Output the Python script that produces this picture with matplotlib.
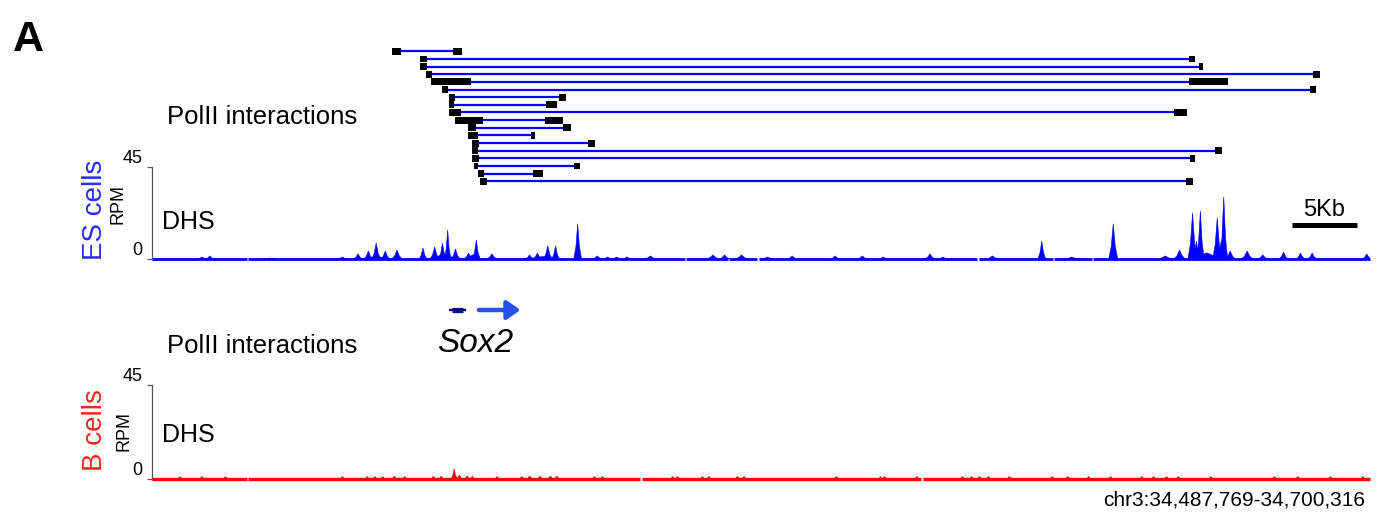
import numpy as np
import matplotlib.pyplot as plt

plt.rcParams['font.family'] = ['Liberation Sans', 'DejaVu Sans']

W, H = 1389, 512

# PolII interactions (positions in kb from the left edge of the view)
left_start = [18.6, 20.8, 20.8, 21.2, 21.6, 22.5, 23.0, 23.0, 23.0, 23.5, 24.5, 24.5, 24.8, 24.8, 24.8, 24.9, 25.2, 25.4]
left_end = [19.3, 21.3, 21.3, 21.7, 24.7, 22.9, 23.5, 23.4, 23.9, 25.6, 25.1, 25.2, 25.3, 25.2, 25.3, 25.2, 25.7, 25.9]
right_start = [23.3, 79.9, 80.7, 89.5, 79.9, 89.2, 31.5, 30.5, 78.8, 30.4, 31.8, 29.3, 33.7, 81.9, 80.0, 32.6, 29.5, 79.7]
right_end = [24.0, 80.4, 81.0, 90.0, 82.9, 89.7, 32.0, 31.3, 79.8, 31.8, 32.4, 29.6, 34.2, 82.5, 80.4, 33.1, 30.2, 80.2]

# ES cells DHS peaks: centre (kb), height (RPM), half width (kb)
es_pos = [4.0, 4.6, 9.2, 14.8, 16.0, 16.8, 17.4, 18.1, 19.0, 21.0, 21.9, 22.5, 22.9, 23.5,
          24.5, 25.1, 26.3, 29.2, 29.8, 30.6, 31.2, 32.9, 34.4, 35.2, 35.9, 36.7, 38.5, 43.3,
          44.2, 45.5, 47.5, 49.4, 52.7, 54.8, 56.4, 60.0, 61.0, 64.8, 68.6, 70.9, 74.1, 78.1,
          79.2, 80.2, 80.5, 80.8, 81.4, 82.1, 82.4, 82.6, 83.1, 84.4, 85.6, 87.2, 88.5, 89.4,
          93.6, 22.6, 24.8, 81.3, 17.5, 30.2]
es_rpm = [1.0, 1.5, 0.5, 1.0, 2.5, 3.9, 7.8, 3.9, 4.4, 5.4, 5.9, 7.8, 14.2, 4.9,
          2.9, 9.3, 2.5, 2.0, 2.9, 6.4, 6.4, 17.2, 1.5, 1.0, 1.0, 1.0, 1.5, 2.0,
          2.0, 2.0, 1.0, 1.5, 1.5, 1.5, 1.0, 2.5, 1.0, 1.5, 8.8, 1.0, 17.2, 1.5,
          4.4, 22.5, 8.8, 23.5, 2.5, 20.1, 8.8, 30.4, 3.9, 3.9, 2.0, 3.4, 2.9, 2.9,
          2.5, 2.5, 2.0, 3.0, 1.2, 1.2]
es_hw = [0.4, 0.35, 0.5, 0.4, 0.35, 0.35, 0.35, 0.35, 0.4, 0.3, 0.35, 0.3, 0.25, 0.35,
         0.35, 0.3, 0.4, 0.35, 0.35, 0.35, 0.3, 0.3, 0.4, 0.4, 0.4, 0.4, 0.5, 0.5,
         0.4, 0.5, 0.5, 0.4, 0.4, 0.4, 0.4, 0.4, 0.4, 0.5, 0.3, 0.6, 0.35, 0.6,
         0.45, 0.35, 0.3, 0.3, 0.4, 0.35, 0.3, 0.3, 0.4, 0.45, 0.4, 0.35, 0.35, 0.35,
         0.35, 1.4, 0.8, 1.6, 1.5, 1.6]
es_gaps = [7.5, 41.2, 44.5, 46.8, 63.7, 69.5, 72.5]

# B cells DHS peaks
b_pos = [2.3, 4.0, 5.8, 14.8, 16.7, 17.3, 17.9, 18.8, 19.6, 21.8, 22.4, 23.4, 23.8, 24.4,
         24.8, 26.7, 28.6, 29.2, 30.0, 30.8, 31.3, 34.2, 34.8, 40.2, 40.6, 42.5, 43.0, 45.2,
         45.7, 52.8, 56.2, 56.5, 59.0, 62.5, 63.2, 63.8, 64.5, 66.1, 69.4, 70.6, 72.2, 73.9,
         76.3, 77.2, 78.2, 79.1, 81.6, 86.5, 88.3, 90.8, 93.3]
b_rpm = [1.2, 1.2, 1.2, 1.2, 1.2, 1.2, 1.2, 1.4, 1.2, 1.3, 1.3, 4.8, 1.9, 1.5,
         1.3, 1.2, 1.2, 1.4, 1.4, 1.4, 1.4, 1.2, 1.2, 1.2, 1.2, 1.2, 1.2, 1.2,
         1.2, 1.2, 1.2, 1.2, 1.2, 1.2, 1.2, 1.2, 1.2, 1.2, 1.2, 1.2, 1.2, 1.2,
         1.2, 1.2, 1.2, 1.2, 1.2, 1.2, 1.2, 1.2, 1.2]
b_gaps = [7.5, 37.8, 59.4]

sox2_body = (23.0, 24.3)
sox2_core = (23.2, 24.1)
sox2_arrow = (25.3, 28.5)
scalebar = (87.85, 92.85)

XLIM = (0.115, 93.85)
BLUE = '#0000ff'
RED = '#ff0000'


def fx(x):
    return x / W


def fy(y):
    return 1 - y / H


def track(ax, pos, rpm, hw, gaps, color, lw):
    for c, h, w in zip(pos, rpm, hw):
        ax.fill([c - w, c - w * 0.45, c, c + w * 0.45, c + w],
                [0, h * 0.35, h, h * 0.35, 0], color=color, lw=0.4, ec=color)
    edges = [XLIM[0]] + sorted(gaps) + [XLIM[1]]
    for i in range(len(edges) - 1):
        a = edges[i] + (0.07 if i > 0 else 0)
        b = edges[i + 1] - (0.07 if i < len(edges) - 2 else 0)
        ax.plot([a, b], [0, 0], color=color, lw=lw, solid_capstyle='butt', clip_on=False)
    ax.set_xlim(*XLIM)
    ax.set_ylim(0, 45)
    for s in ['top', 'right', 'bottom']:
        ax.spines[s].set_visible(False)
    ax.spines['left'].set_color('#555555')
    ax.spines['left'].set_linewidth(0.9)
    ax.set_xticks([])
    ax.set_yticks([0, 45])
    ax.set_yticklabels(['0', '45'], fontsize=13, va='bottom')
    ax.tick_params(axis='y', length=3.6, width=0.9, color='#555555', pad=3)
    ax.patch.set_alpha(0)


fig = plt.figure(figsize=(W / 100, H / 100), dpi=100)

x0 = fx(151.5)
wd = fx(1370) - x0

# interactions
ax_i = fig.add_axes([x0, fy(189.0), wd, (189.0 - 43.65) / H])
rows = np.arange(len(left_start))
lc = (np.array(left_start) + np.array(left_end)) / 2
rc = (np.array(right_start) + np.array(right_end)) / 2
ax_i.hlines(rows, lc, rc, color=BLUE, lw=1.6, zorder=1)
ax_i.barh(rows, np.array(left_end) - np.array(left_start), left=left_start, height=0.9, color='black', zorder=2)
ax_i.barh(rows, np.array(right_end) - np.array(right_start), left=right_start, height=0.9, color='black', zorder=2)
ax_i.set_xlim(*XLIM)
ax_i.set_ylim(18, -1)
ax_i.axis('off')

# ES track
ax_es = fig.add_axes([x0, fy(259), wd, 92 / H])
track(ax_es, es_pos, es_rpm, es_hw, es_gaps, BLUE, 2.0)
ax_es.plot(scalebar, [16.7, 16.7], color='black', lw=3.6, solid_capstyle='butt', clip_on=False)
ax_es.text(sum(scalebar) / 2, 21.2, '5Kb', fontsize=17, ha='center', va='baseline')

# gene
ax_g = fig.add_axes([x0, fy(320), wd, 20 / H])
ax_g.set_xlim(*XLIM)
ax_g.set_ylim(-1, 1)
ax_g.axis('off')
ax_g.plot(sox2_body, [0, 0], color='#0a0a80', lw=1.7, solid_capstyle='butt')
ax_g.plot(sox2_core, [0, 0], color='#0a0a80', lw=3.8, solid_capstyle='butt')
ax_g.annotate('', xy=(sox2_arrow[1], 0), xytext=(sox2_arrow[0], 0),
              arrowprops=dict(arrowstyle='-|>,head_length=0.5,head_width=0.35',
                              mutation_scale=16, lw=3.2, color='#2850ee',
                              shrinkA=0, shrinkB=0))

# B track
ax_b = fig.add_axes([x0, fy(479), wd, 94 / H])
track(ax_b, b_pos, b_rpm, [0.25] * len(b_pos), b_gaps, RED, 2.4)

# labels
fig.text(fx(13), fy(51), 'A', fontsize=31, fontweight='bold', va='baseline')
fig.text(fx(167), fy(124), 'PolII interactions', fontsize=18.5, va='baseline')
fig.text(fx(167), fy(353), 'PolII interactions', fontsize=18.5, va='baseline')
fig.text(fx(95), fy(210), 'ES cells', fontsize=20, rotation=90, color='#2a2aff', ha='center', va='center')
fig.text(fx(95), fy(430), 'B cells', fontsize=20, rotation=90, color='#ee2a1a', ha='center', va='center')
fig.text(fx(118), fy(204), 'RPM', fontsize=13, rotation=90, ha='center', va='center')
fig.text(fx(124), fy(431), 'RPM', fontsize=13, rotation=90, ha='center', va='center')
fig.text(fx(162), fy(229), 'DHS', fontsize=18, va='baseline')
fig.text(fx(162), fy(442), 'DHS', fontsize=18, va='baseline')
fig.text(fx(437), fy(352), 'Sox2', fontsize=24, style='italic', va='baseline')
fig.text(fx(1365), fy(505), 'chr3:34,487,769-34,700,316', fontsize=15, ha='right', va='baseline')

fig.savefig('out.png', dpi=100)
